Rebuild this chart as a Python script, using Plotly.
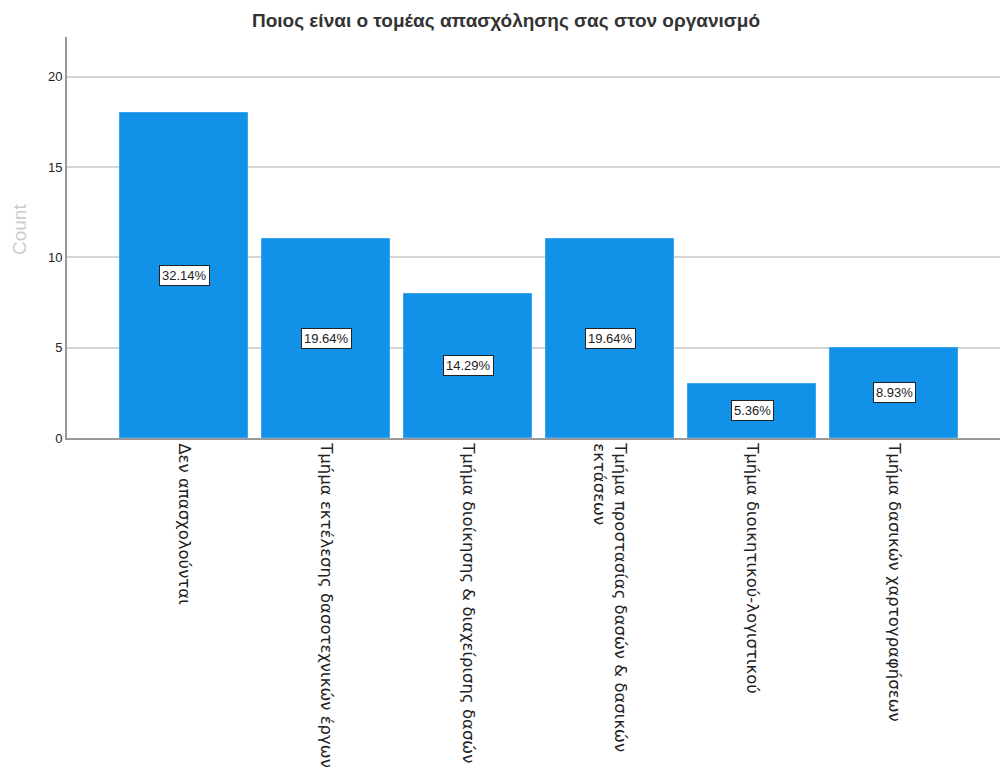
import plotly.graph_objects as go

categories = [
    "Δεν απασχολούνται",
    "Τμήμα εκτέλεσης δασοτεχνικών έργων",
    "Τμήμα διοίκησης & διαχείρισης δασών",
    "Τμήμα προστασίας δασών & δασικών<br>εκτάσεων",
    "Τμήμα διοικητικού-λογιστικού",
    "Τμήμα δασικών χαρτογραφήσεων",
]
counts = [18, 11, 8, 11, 3, 5]
percent_labels = ["32.14%", "19.64%", "14.29%", "19.64%", "5.36%", "8.93%"]
y_ticks = [0, 5, 10, 15, 20]

W, H = 1002, 776
L, R, T, B = 67, 2, 37, 338
fig = go.Figure()
fig.add_trace(go.Bar(
    x=list(range(len(categories))),
    y=counts,
    width=0.9,
    marker=dict(color="#1192e8", line=dict(color="#3aa3ee", width=1)),
    hoverinfo="skip",
))

# percentage boxes at mid-height of each bar
for i, (c, p) in enumerate(zip(counts, percent_labels)):
    fig.add_annotation(
        x=i, y=c / 2, text=p, showarrow=False,
        font=dict(family="Arial", size=13, color="#222222"),
        bgcolor="white", bordercolor="#222222", borderwidth=1, borderpad=2,
    )

# y-axis title
fig.add_annotation(
    xref="paper", yref="paper",
    x=(19 - L) / (W - L - R), y=(438 - 230) / (H - T - B),
    text="Count", textangle=-90, showarrow=False,
    xanchor="center", yanchor="middle",
    font=dict(family="Arial", size=19, color="#cccccc"),
)

fig.update_layout(
    width=W, height=H,
    margin=dict(l=L, r=R, t=T, b=B, autoexpand=False),
    paper_bgcolor="white", plot_bgcolor="white",
    showlegend=False,
    title=dict(
        text="Ποιος είναι ο τομέας απασχόλησης σας στον οργανισμό",
        x=0.505, xanchor="center", y=0.974, yanchor="middle",
        font=dict(family="Arial", size=19, color="#333333", weight="bold"),
    ),
    bargap=0,
)
fig.update_xaxes(
    range=[-0.824, 5.746],
    tickmode="array",
    tickvals=list(range(len(categories))),
    ticktext=categories,
    tickangle=90,
    tickfont=dict(family="DejaVu Sans", size=16.5, color="#222222"),
    showline=True, linecolor="#999999", linewidth=2,
    showgrid=False, ticks="", ticklen=0, automargin=False,
    zeroline=False,
)
fig.update_yaxes(
    range=[0, 22.2],
    tickmode="array", tickvals=y_ticks,
    tickfont=dict(family="Arial", size=13, color="#222222"),
    showline=True, linecolor="#999999", linewidth=2,
    showgrid=True, gridcolor="#d4d4d4", gridwidth=1.5,
    zeroline=False, ticks="", automargin=False,
)
fig.write_html("out.html")
